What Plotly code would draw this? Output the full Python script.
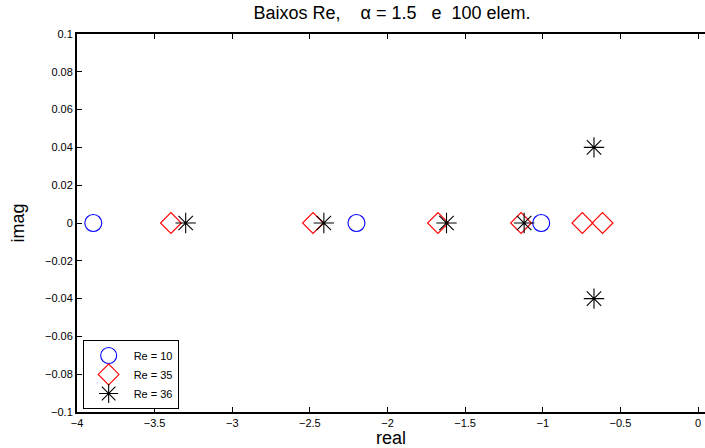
import plotly.graph_objects as go

# Eigenvalues (real, imaginary parts) for each Reynolds number
re10_real = [-3.895, -2.20, -1.01]
re10_imag = [0.0, 0.0, 0.0]

re35_real = [-3.395, -2.48, -1.675, -1.14, -0.745, -0.615]
re35_imag = [0.0, 0.0, 0.0, 0.0, 0.0, 0.0]

re36_real = [-3.30, -2.41, -1.62, -1.12, -0.67, -0.67]
re36_imag = [0.0, 0.0, 0.0, 0.0, 0.04, -0.04]

series_names = ["Re = 10", "Re = 35", "Re = 36"]

x_ticks = [-4, -3.5, -3, -2.5, -2, -1.5, -1, -0.5, 0]
x_tick_text = ["\u22124", "\u22123.5", "\u22123", "\u22122.5", "\u22122", "\u22121.5", "\u22121", "\u22120.5", "0"]
y_ticks = [-0.1, -0.08, -0.06, -0.04, -0.02, 0, 0.02, 0.04, 0.06, 0.08, 0.1]
y_tick_text = ["\u22120.1", "\u22120.08", "\u22120.06", "\u22120.04", "\u22120.02", "0",
               "0.02", "0.04", "0.06", "0.08", "0.1"]

FONT = "Liberation Sans, Arial, Helvetica, sans-serif"

fig = go.Figure()
fig.add_trace(go.Scatter(
    x=re10_real, y=re10_imag, mode="markers", name=series_names[0],
    marker=dict(symbol="circle-open", size=17, color="#0000ff", line=dict(width=1.1, color="#0000ff")),
))
fig.add_trace(go.Scatter(
    x=re35_real, y=re35_imag, mode="markers", name=series_names[1],
    marker=dict(symbol="diamond-open", size=16, color="#ff0000", line=dict(width=1.1, color="#ff0000")),
))
fig.add_trace(go.Scatter(
    x=re36_real, y=re36_imag, mode="markers", name=series_names[2],
    marker=dict(symbol="asterisk-open", size=17, color="#000000", line=dict(width=1.1, color="#000000")),
))

axis_common = dict(
    showgrid=False, zeroline=False, showline=True, linecolor="black", linewidth=2,
    ticks="inside", ticklen=5, tickwidth=1, tickcolor="black",
    tickfont=dict(family=FONT, size=11, color="black"),
)

fig.update_layout(
    width=705, height=448,
    margin=dict(l=77, r=0, t=34, b=36),
    paper_bgcolor="white", plot_bgcolor="white",
    title=dict(
        text="Baixos Re,\u00a0\u00a0\u00a0\u00a0\u03b1 = 1.5\u00a0\u00a0\u00a0e\u00a0\u00a0100 elem.",
        x=392 / 705, xanchor="center", y=1 - 13 / 448, yanchor="middle",
        font=dict(family=FONT, size=18, color="black"),
    ),
    xaxis=dict(
        range=[-4, 0.045], tickvals=x_ticks, ticktext=x_tick_text, mirror="allticks",
        title=dict(text="real", font=dict(family=FONT, size=18, color="black"), standoff=0),
        **axis_common,
    ),
    yaxis=dict(
        range=[-0.1, 0.1], tickvals=y_ticks, ticktext=y_tick_text, mirror=False,
        title=dict(text="imag", font=dict(family=FONT, size=18, color="black"), standoff=16),
        **axis_common,
    ),
    legend=dict(
        x=0.009, y=0.008, xanchor="left", yanchor="bottom",
        bgcolor="white", bordercolor="black", borderwidth=1,
        font=dict(family=FONT, size=11, color="black"),
        tracegroupgap=0, itemwidth=40,
    ),
)

fig.write_html("out.html")
